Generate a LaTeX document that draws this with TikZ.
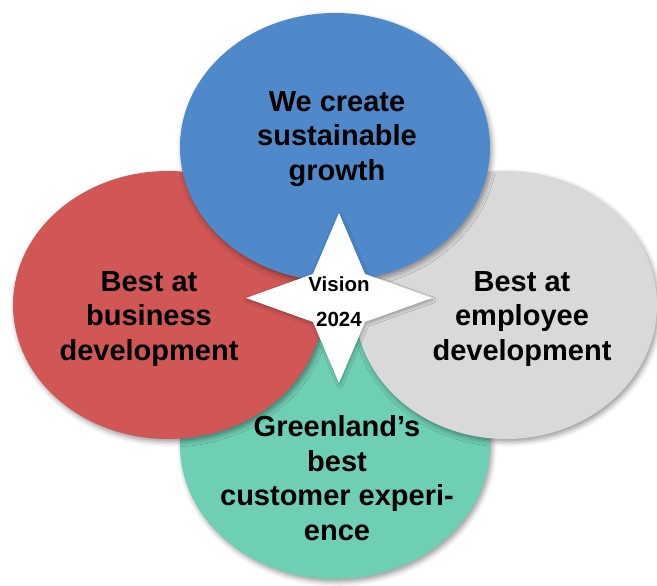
\documentclass[tikz,border=0pt]{standalone}
\usepackage{fontspec}
\setmainfont{Liberation Sans}
\usetikzlibrary{shapes.geometric,shadows.blur}
\definecolor{goalblue}{HTML}{4F89CA}
\definecolor{goalred}{HTML}{D05756}
\definecolor{goalgray}{HTML}{D9D9D9}
\definecolor{goalteal}{HTML}{6FCFB4}
\tikzstyle{goal} = [ellipse, inner sep=0pt, minimum width=310pt, minimum height=268pt,
	blur shadow={shadow xshift=2pt, shadow yshift=-3pt, shadow blur radius=5pt, shadow opacity=40}]
\tikzstyle{goaltext} = [align=center, font=\bfseries\fontsize{29}{34.5}\selectfont]

\begin{document}
\begin{tikzpicture}[x=1pt,y=-1pt]
\useasboundingbox (0,0) rectangle (657,586);

% the four goals, bottom one first
\node[goal, fill=goalteal] (customer) at (335,445) {};
\node[goal, fill=goalred] (business) at (168,305) {};
\node[goal, fill=goalgray, minimum width=302pt] (employee) at (506,305) {};
\node[goal, fill=goalblue] (growth) at (335,147) {};

% star in the middle
\fill[white, blur shadow={shadow xshift=1pt, shadow yshift=-2pt, shadow blur radius=3pt, shadow opacity=30}]
	(339,213) -- (365,274) -- (432,298) -- (365,322) -- (339,383)
	-- (313,322) -- (246,298) -- (313,274) -- cycle;

\node[goaltext] (growthtext) at (337,139) {We create\\sustainable\\growth};
\node[goaltext] (businesstext) at (149,319) {Best at\\business\\development};
\node[goaltext] (employeetext) at (522,319) {Best at\\employee\\development};
\node[goaltext] (customertext) at (337,478) {Greenland’s\\best\\customer experi-\\ence};
\node[align=center, font=\bfseries\fontsize{20.5}{35}\selectfont] (vision) at (339,302) {Vision\\2024};

\end{tikzpicture}
\end{document}
